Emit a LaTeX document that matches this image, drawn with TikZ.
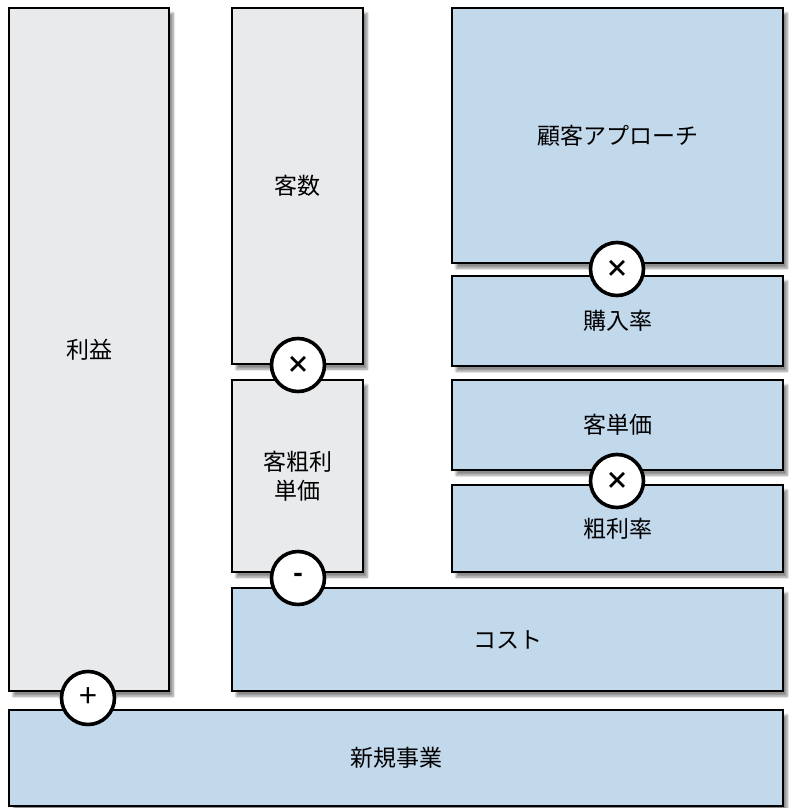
\documentclass[tikz,border=0pt]{standalone}
\usepackage{fontspec}
\setmainfont{Noto Sans CJK JP}
\usetikzlibrary{shadows.blur}
\definecolor{grayfill}{HTML}{E9EAEC}
\definecolor{bluefill}{HTML}{C2D8EB}
\tikzset{
  box/.style={draw=black, line width=2.4pt, anchor=north west, inner sep=0pt,
    font=\fontsize{23}{29}\selectfont, align=center,
    blur shadow={shadow xshift=4pt, shadow yshift=-5pt, shadow blur steps=8, shadow opacity=45}},
  gbox/.style={box, fill=grayfill},
  bbox/.style={box, fill=bluefill},
  op/.style={circle, draw=black, line width=3.6pt, fill=white, minimum size=53pt, inner sep=0pt,
    font=\fontsize{26}{26}\selectfont}
}
\begin{document}
\begin{tikzpicture}[x=1pt,y=-1pt]
\useasboundingbox (0,0) rectangle (788,808);
\node[gbox, minimum width=160pt, minimum height=683pt] (rieki) at (8,7) {利益};
\node[bbox, minimum width=774pt, minimum height=96pt] (shinki) at (8,709) {新規事業};
\node[gbox, minimum width=131pt, minimum height=356pt] (kyakusu) at (231,7) {客数};
\node[gbox, minimum width=131pt, minimum height=192pt] (arari) at (231,379) {客粗利\\単価};
\node[bbox, minimum width=551pt, minimum height=103pt] (cost) at (231,587) {コスト};
\node[bbox, minimum width=331pt, minimum height=255pt] (approach) at (451,7) {顧客アプローチ};
\node[bbox, minimum width=331pt, minimum height=90pt] (kounyu) at (451,275) {購入率};
\node[bbox, minimum width=331pt, minimum height=90pt] (tanka) at (451,379) {客単価};
\node[bbox, minimum width=331pt, minimum height=87pt] (rate) at (451,484) {粗利率};
\node[op, font=\fontsize{24}{24}\selectfont\bfseries] (o1) at (617,269) {×};
\node[op, font=\fontsize{24}{24}\selectfont\bfseries] (o2) at (617,481) {×};
\node[op, font=\fontsize{24}{24}\selectfont\bfseries] (o3) at (298,365) {×};
\node[op, font=\fontsize{26}{26}\selectfont\bfseries] (o4) at (298,578) {-};
\node[op, font=\fontsize{32}{32}\selectfont] (o5) at (88,698) {+};
\end{tikzpicture}
\end{document}
